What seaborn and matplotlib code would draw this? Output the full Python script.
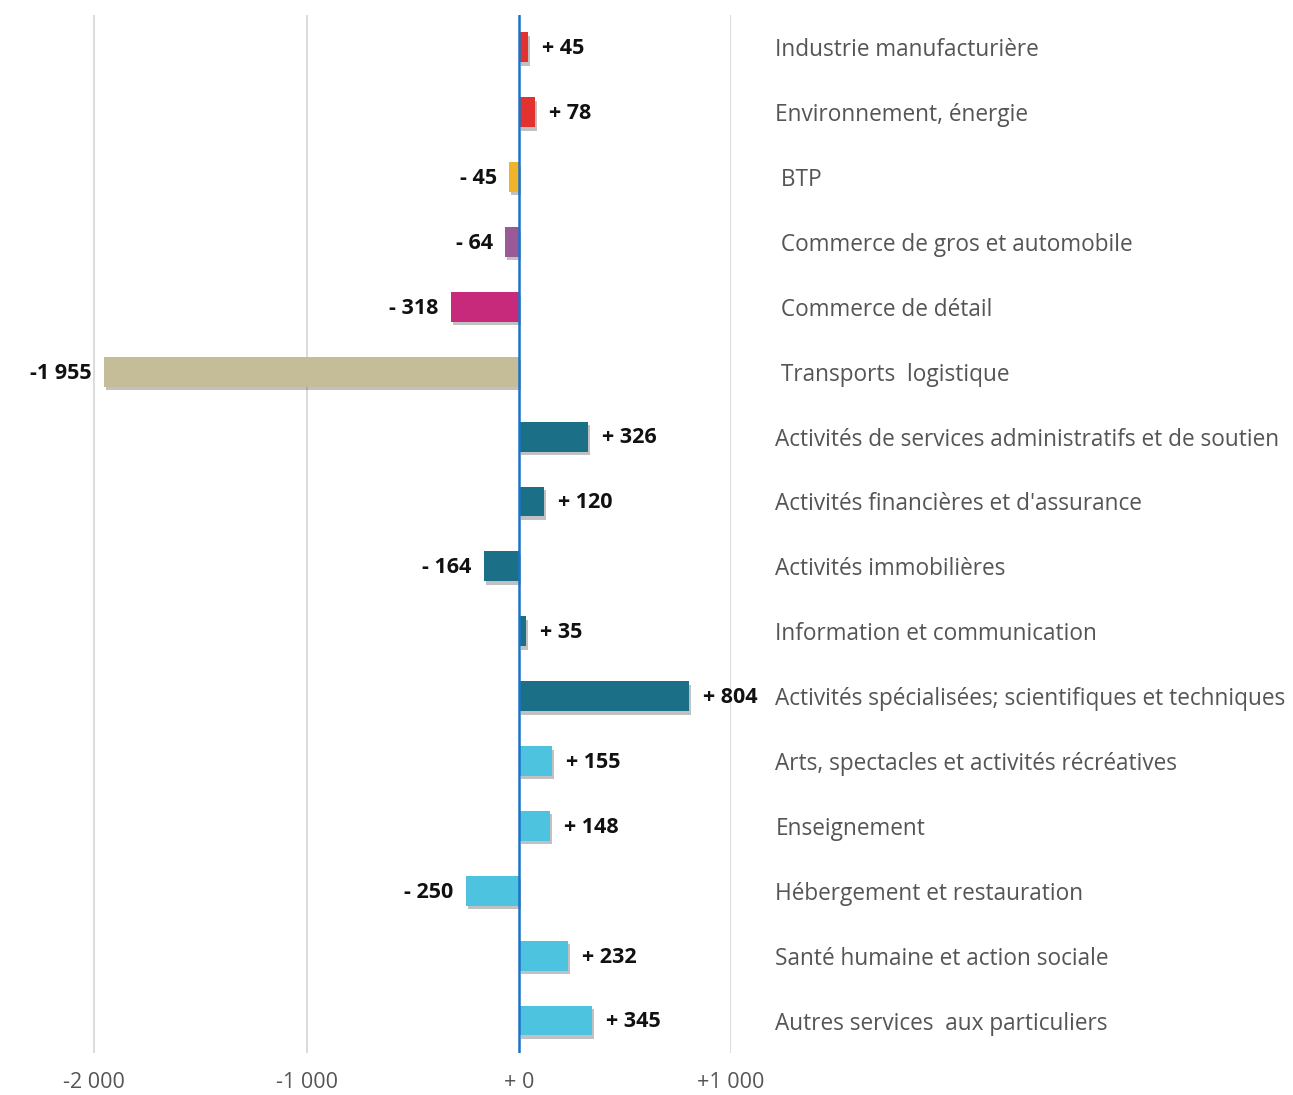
import matplotlib
matplotlib.use("Agg")
import matplotlib.pyplot as plt
import matplotlib.patheffects as pe
import pandas as pd
import seaborn as sns

sns.set_style("white")
plt.rcParams['font.family'] = ['Open Sans', 'DejaVu Sans']

# données
secteurs = [
    "Industrie manufacturière",
    "Environnement, énergie",
    " BTP",
    " Commerce de gros et automobile",
    " Commerce de détail",
    " Transports  logistique",
    "Activités de services administratifs et de soutien",
    "Activités financières et d'assurance",
    "Activités immobilières",
    "Information et communication",
    "Activités spécialisées; scientifiques et techniques",
    "Arts, spectacles et activités récréatives",
    "Enseignement",
    "Hébergement et restauration",
    "Santé humaine et action sociale",
    "Autres services  aux particuliers",
]
variation = [45, 78, -45, -64, -318, -1955, 326, 120, -164, 35, 804, 155, 148, -250, 232, 345]
etiquettes = ["+ 45", "+ 78", "- 45", "- 64", "- 318", "-1 955", "+ 326", "+ 120",
              "- 164", "+ 35", "+ 804", "+ 155", "+ 148", "- 250", "+ 232", "+ 345"]
couleurs = ["#e3312f", "#e3312f", "#f0b32a", "#9a5a98", "#c7297b", "#c5bd98",
            "#1b6f87", "#1b6f87", "#1b6f87", "#1b6f87", "#1b6f87",
            "#4dc3df", "#4dc3df", "#4dc3df", "#4dc3df", "#4dc3df"]
ticks_x = [-2000, -1000, 0, 1000]
ticks_lbl = ["-2 000", "-1 000", "+ 0", "+1 000"]

df = pd.DataFrame({"secteur": secteurs, "variation": variation})

fig = plt.figure(figsize=(12.93, 10.95), dpi=100)
ax = fig.add_axes([0.0402, 0.0384, 0.5251, 0.948])

sns.barplot(data=df, y="secteur", x="variation", hue="secteur", palette=couleurs,
            orient="h", width=0.46, saturation=1, legend=False, ax=ax, zorder=3)

# ombre portée sous les barres
for bar in ax.patches:
    bar.set_linewidth(0)
    bar.set_path_effects([pe.SimplePatchShadow(offset=(1.5, -2.5), alpha=0.3, shadow_rgbFace="#333333"),
                          pe.Normal()])

for i, (v, lab) in enumerate(zip(variation, etiquettes)):
    if v >= 0:
        ax.annotate(lab, (v, i), xytext=(10, -1), textcoords="offset points",
                    ha="left", va="center", fontsize=15.5, fontweight="bold",
                    color="#111111", clip_on=False)
    else:
        ax.annotate(lab, (v, i), xytext=(-9, -1), textcoords="offset points",
                    ha="right", va="center", fontsize=15.5, fontweight="bold",
                    color="#111111", clip_on=False)

ax.set_xlim(-2200, 1000)
ax.set_ylim(15.5, -0.5)
ax.set_xticks(ticks_x)
ax.set_xticklabels(ticks_lbl, fontsize=15.5, color="#555555")
ax.tick_params(axis="x", length=0, pad=14)

for xv in [-2000, -1000, 1000]:
    ax.axvline(xv, color="#d9d9d9", lw=1.3, zorder=0)
ax.axvline(0, color="#1a73c8", lw=1.8, zorder=4)

ax.yaxis.tick_right()
ax.tick_params(axis="y", length=0, pad=32)
for t in ax.get_yticklabels():
    t.set_fontsize(16.3)
    t.set_color("#555555")
    t.set_ha("left")

ax.set_xlabel("")
ax.set_ylabel("")
sns.despine(ax=ax, left=True, bottom=True)

fig.savefig("out.png", dpi=100)
